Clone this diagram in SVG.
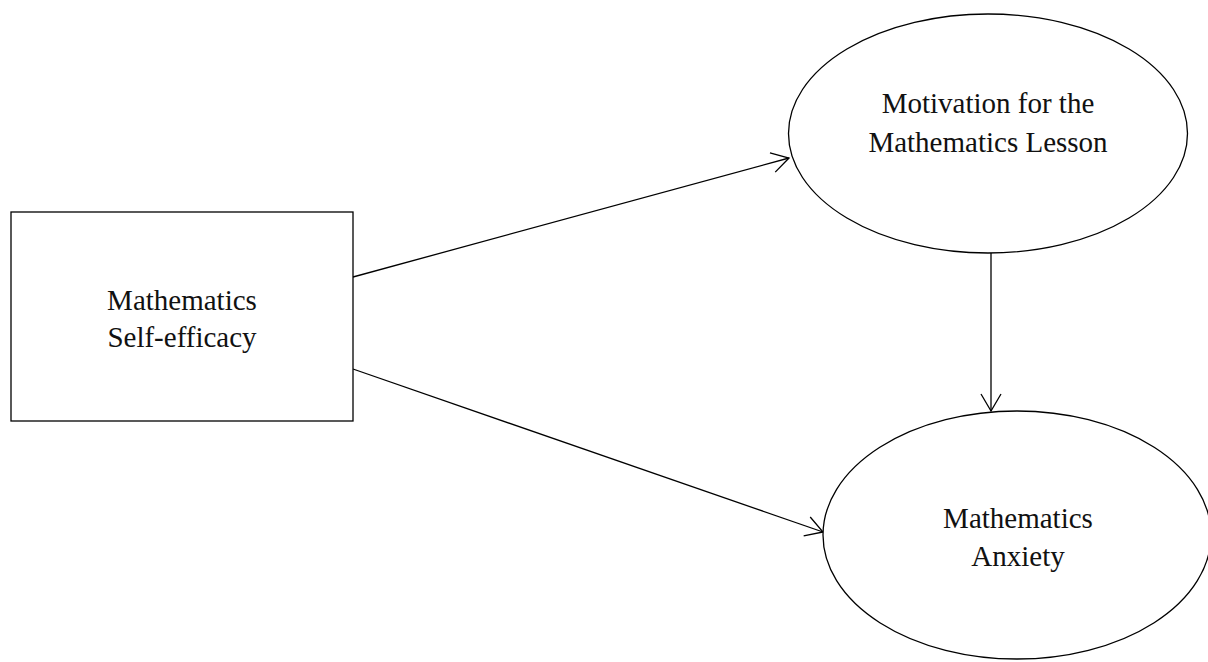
<svg xmlns="http://www.w3.org/2000/svg" width="1208" height="662" viewBox="0 0 1208 662">
<style>
.shape{fill:#fff;stroke:#000;stroke-width:1.3}
.lbl{font-family:"Liberation Serif","Times New Roman",serif;font-size:29px;fill:#111;text-anchor:middle}
.conn{stroke:#000;stroke-width:1.3;fill:none}
</style>
<defs>
<marker id="arr" markerUnits="userSpaceOnUse" markerWidth="24" markerHeight="24" viewBox="-20 -12 22 24" refX="0" refY="0" orient="auto">
<path d="M-17,-10 L0,0 L-17,10" fill="none" stroke="#000" stroke-width="1.3"/>
</marker>
</defs>
<rect width="1208" height="662" fill="#fff"/>
<g id="connectors">
<line class="conn" x1="353" y1="277" x2="789" y2="158" marker-end="url(#arr)"/>
<line class="conn" x1="353" y1="369" x2="823" y2="532" marker-end="url(#arr)"/>
<line class="conn" x1="991" y1="253" x2="991" y2="411" marker-end="url(#arr)"/>
</g>
<g id="self-efficacy">
<rect class="shape" x="11" y="212" width="342" height="209"/>
<text class="lbl" x="182" y="310">Mathematics</text>
<text class="lbl" x="182" y="347">Self-efficacy</text>
</g>
<g id="motivation">
<ellipse class="shape" cx="988" cy="133.5" rx="199.5" ry="119.5"/>
<text class="lbl" x="988" y="113">Motivation for the</text>
<text class="lbl" x="988" y="152">Mathematics Lesson</text>
</g>
<g id="anxiety">
<ellipse class="shape" cx="1017" cy="535" rx="194" ry="124"/>
<text class="lbl" x="1018" y="528">Mathematics</text>
<text class="lbl" x="1018" y="566">Anxiety</text>
</g>
</svg>
